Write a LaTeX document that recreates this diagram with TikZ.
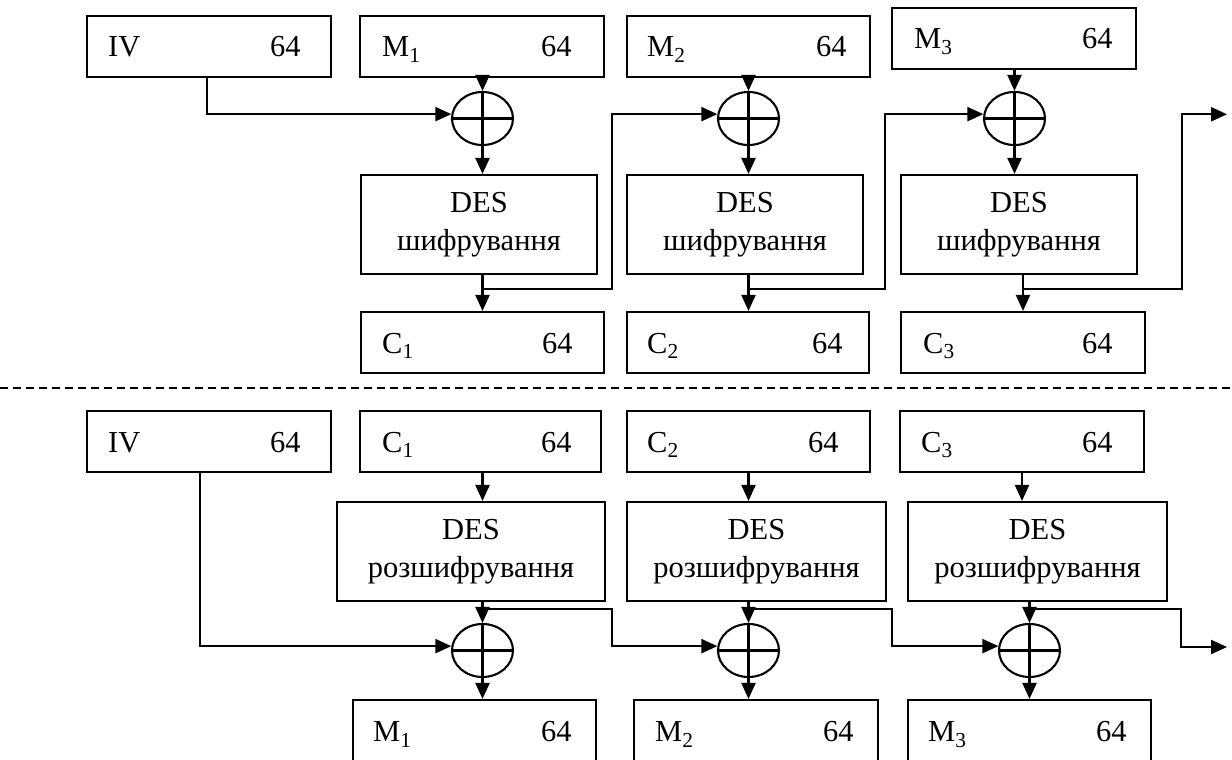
\documentclass[tikz,border=0pt]{standalone}
\usepackage{fontspec}
\setmainfont{Liberation Serif}
\usetikzlibrary{arrows.meta,shapes.geometric}

% register box: name, x1, y1, x2, y2, label, label x, "64" x
\newcommand\datablock[8]{%
  \node[frame,minimum width={#4-#2},minimum height={#5-#3}] (#1) at ({(#2+#4)/2},{(#3+#5)/2}) {};
  \node[lbl] (#1-name) at (#7,{(#3+#5)/2+10.5}) {#6};
  \node[lbl] (#1-bits) at (#8,{(#3+#5)/2+10.5}) {64};
}
% cipher block: name, x1, y1, x2, y2, text
\newcommand\cipherblock[6]{%
  \node[frame,align=center,minimum width={#4-#2},minimum height={#5-#3}] (#1) at ({(#2+#4)/2},{(#3+#5)/2}) {#6};
}

\begin{document}
\begin{tikzpicture}[x=1pt,y=-1pt,
  every node/.style={font=\fontsize{30.5}{38}\selectfont},
  wire/.style={line width=2.2pt},
  arr/.style={wire,-{Triangle[length=16pt,width=14pt]}},
  frame/.style={draw,rectangle,line width=2.1pt,inner sep=0pt},
  lbl/.style={anchor=base west,inner sep=0pt},
  xorop/.style={draw,ellipse,line width=2.1pt,minimum width=61pt,minimum height=53pt,inner sep=0pt,
    path picture={\draw[line width=2.1pt]
      (path picture bounding box.north) -- (path picture bounding box.south)
      (path picture bounding box.west) -- (path picture bounding box.east);}},
  separator/.style={line width=1.4pt,dash pattern=on 8pt off 5pt}
]
\useasboundingbox (0,0) rectangle (1232,760);
\clip (0,0) rectangle (1232,760);

% ---------- encryption ----------
\datablock{iv1}{87}{15.7}{331}{76.7}{IV}{108}{270}
\datablock{m1}{360}{15.7}{604}{76.7}{M\textsubscript{1}}{382}{541}
\datablock{m2}{627}{15.7}{870}{76.7}{M\textsubscript{2}}{647}{816}
\datablock{m3}{892}{7.7}{1136}{69}{M\textsubscript{3}}{914}{1082}

\node[xorop] (xor1) at (482.5,118.5) {};
\node[xorop] (xor2) at (748.5,118.5) {};
\node[xorop] (xor3) at (1014.5,118.5) {};

\cipherblock{des1}{361}{175}{597}{274}{DES\\шифрування}
\cipherblock{des2}{627}{175}{863}{274}{DES\\шифрування}
\cipherblock{des3}{901}{175}{1137}{274}{DES\\шифрування}

\datablock{c1}{361}{312}{604}{373}{C\textsubscript{1}}{382}{542}
\datablock{c2}{627}{312}{869}{373}{C\textsubscript{2}}{647}{812}
\datablock{c3}{901}{312}{1145}{373}{C\textsubscript{3}}{923}{1082}

\draw[arr] ([xshift=121pt]iv1.south west) |- (xor1.172);

\draw[arr] (xor1.north |- m1.south) -- (xor1.north);
\draw[arr] (xor1.south) -- (xor1.south |- des1.north);
\draw[arr] (xor1.south |- des1.south) -- (xor1.south |- c1.north);
\coordinate (t1) at (482.5,289);
\draw[arr] (t1) -- ++(129.5,0) |- (xor2.172);

\draw[arr] (xor2.north |- m2.south) -- (xor2.north);
\draw[arr] (xor2.south) -- (xor2.south |- des2.north);
\draw[arr] (xor2.south |- des2.south) -- (xor2.south |- c2.north);
\coordinate (t2) at (748.5,289);
\draw[arr] (t2) -- ++(136.5,0) |- (xor3.172);

\draw[arr] (xor3.north |- m3.south) -- (xor3.north);
\draw[arr] (xor3.south) -- (xor3.south |- des3.north);
\draw[arr] (c3.north |- des3.south) -- (c3.north);
\coordinate (t3) at (1023,289);
\coordinate (out1) at (1227,114.3);
\draw[arr] (t3) -- ++(159,0) |- (out1);

% ---------- separator ----------
\coordinate (sepL) at (0,388);
\coordinate (sepR) at (1232,388);
\draw[separator] (sepL) -- (sepR);

% ---------- decryption ----------
\datablock{iv2}{87}{411}{331}{472}{IV}{108}{270}
\datablock{c1b}{360}{411}{601}{472}{C\textsubscript{1}}{382}{541}
\datablock{c2b}{627}{411}{870}{472}{C\textsubscript{2}}{647}{808}
\datablock{c3b}{900}{411}{1144}{472}{C\textsubscript{3}}{921}{1082}

\cipherblock{des4}{337}{502}{605}{601}{DES\\розшифрування}
\cipherblock{des5}{627}{502}{886}{601}{DES\\розшифрування}
\cipherblock{des6}{908}{502}{1167}{601}{DES\\розшифрування}

\node[xorop] (xor4) at (482.5,650.5) {};
\node[xorop] (xor5) at (748.5,650.5) {};
\node[xorop] (xor6) at (1029.5,650.5) {};

\datablock{m1b}{353}{700}{596}{762}{M\textsubscript{1}}{373}{541}
\datablock{m2b}{634}{700}{878}{762}{M\textsubscript{2}}{655}{823}
\datablock{m3b}{908}{700}{1151}{762}{M\textsubscript{3}}{928}{1096}

\draw[arr] ([xshift=113.7pt]iv2.south west) |- (xor4.172);

\draw[arr] (xor4 |- c1b.south) -- (xor4 |- des4.north);
\draw[arr] (xor4 |- des4.south) -- (xor4.north);
\draw[arr] (xor4.south) -- (xor4 |- m1b.north);
\coordinate (b1) at (482.5,609);
\draw[arr] (b1) -- ++(129.5,0) |- (xor5.172);

\draw[arr] (xor5 |- c2b.south) -- (xor5 |- des5.north);
\draw[arr] (xor5 |- des5.south) -- (xor5.north);
\draw[arr] (xor5.south) -- (xor5 |- m2b.north);
\coordinate (b2) at (748.5,609);
\draw[arr] (b2) -- ++(143.5,0) |- (xor6.172);

\draw[arr] (c3b.south) -- (c3b.south |- des6.north);
\draw[arr] (xor6 |- des6.south) -- (xor6.north);
\draw[arr] (xor6.south) -- (xor6 |- m3b.north);
\coordinate (b3) at (1029.5,609);
\coordinate (out2) at (1227,647);
\draw[arr] (b3) -- ++(151.5,0) |- (out2);
\end{tikzpicture}
\end{document}
